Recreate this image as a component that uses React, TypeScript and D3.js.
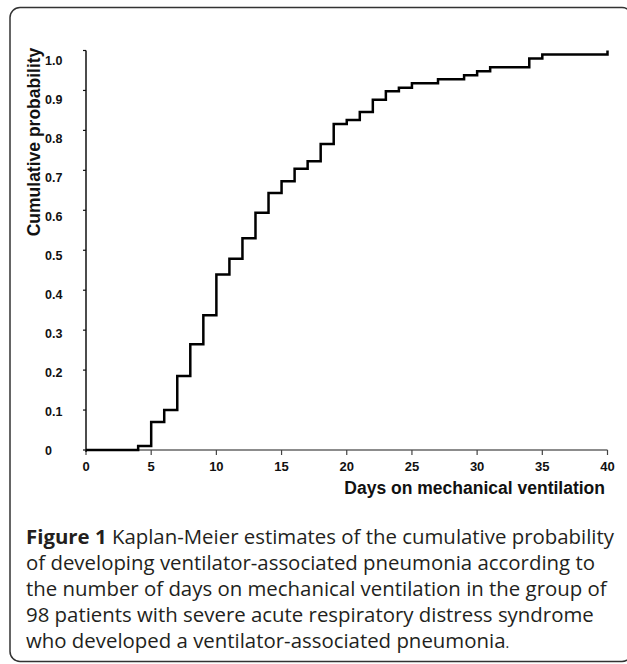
import React, { useEffect, useRef } from 'react';
import * as d3 from 'd3';

// Kaplan-Meier steps (day, cumulative probability)
const days = [0, 4, 5, 6, 7, 8, 9, 10, 11, 12, 13, 14, 15, 16, 17, 18, 19, 20, 21, 22, 23, 24, 25, 27, 29, 30, 31, 34, 35, 40];
const cumProb = [0, 0.01, 0.07, 0.1, 0.185, 0.265, 0.337, 0.439, 0.479, 0.53, 0.594, 0.643, 0.673, 0.704, 0.723, 0.766, 0.816, 0.826, 0.846, 0.877, 0.898, 0.907, 0.918, 0.928, 0.938, 0.948, 0.958, 0.98, 0.99, 1.0];

const xTicks = [0, 5, 10, 15, 20, 25, 30, 35, 40];
const yTicks = [0, 0.1, 0.2, 0.3, 0.4, 0.5, 0.6, 0.7, 0.8, 0.9, 1.0];
const yTickLabels = ['0', '0.1', '0.2', '0.3', '0.4', '0.5', '0.6', '0.7', '0.8', '0.9', '1.0'];

const xTitle = 'Days on mechanical ventilation';
const yTitle = 'Cumulative probability';
const captionLines = [
  'Kaplan-Meier estimates of the cumulative probability',
  'of developing ventilator-associated pneumonia according to',
  'the number of days on mechanical ventilation in the group of',
  '98 patients with severe acute respiratory distress syndrome',
  'who developed a ventilator-associated pneumonia',
];

const App = () => {
  const ref = useRef<SVGSVGElement | null>(null);

  useEffect(() => {
    const svg = d3.select(ref.current);
    svg.selectAll('*').remove();

    // frame
    svg.append('rect')
      .attr('x', 10).attr('y', 7.5)
      .attr('width', 622).attr('height', 654)
      .attr('rx', 10)
      .attr('fill', 'none')
      .attr('stroke', '#333')
      .attr('stroke-width', 1.5);

    const x = d3.scaleLinear().domain([0, 40]).range([86, 607.5]);
    const y = d3.scaleLinear().domain([0, 1]).range([450, 50.5]);
    // tick labels in the original sit on a slightly tighter spacing
    const yLab = d3.scaleLinear().domain([0, 1]).range([450, 60]);

    const g = svg.append('g').attr('font-family', 'Arial, "Liberation Sans", sans-serif');

    // x axis
    g.append('line')
      .attr('x1', x(0)).attr('x2', x(40))
      .attr('y1', y(0)).attr('y2', y(0))
      .attr('stroke', '#666').attr('stroke-width', 1.5);
    g.selectAll('.xt').data(xTicks).enter().append('line')
      .attr('x1', d => x(d)).attr('x2', d => x(d))
      .attr('y1', y(0)).attr('y2', y(0) + 5)
      .attr('stroke', '#444').attr('stroke-width', 1.2);
    g.selectAll('.xl').data(xTicks).enter().append('text')
      .attr('x', d => x(d)).attr('y', 471)
      .attr('text-anchor', 'middle')
      .attr('font-size', 13).attr('font-weight', 'bold').attr('fill', '#111')
      .text(d => d);

    // y axis
    g.append('line')
      .attr('x1', x(0)).attr('x2', x(0))
      .attr('y1', y(1)).attr('y2', y(0) + 2)
      .attr('stroke', '#111').attr('stroke-width', 1.5);
    g.selectAll('.yt').data(yTicks).enter().append('line')
      .attr('x1', x(0) - 3).attr('x2', x(0))
      .attr('y1', d => y(d)).attr('y2', d => y(d))
      .attr('stroke', '#111').attr('stroke-width', 1.2);
    g.selectAll('.yl').data(yTicks).enter().append('text')
      .attr('x', 45).attr('y', d => yLab(d) + 4.5)
      .attr('font-size', 12.5).attr('font-weight', 'bold').attr('fill', '#111')
      .text((d, i) => yTickLabels[i]);

    // titles
    g.append('text')
      .attr('x', 605).attr('y', 494)
      .attr('text-anchor', 'end')
      .attr('font-size', 17.5).attr('font-weight', 'bold').attr('fill', '#111')
      .text(xTitle);
    g.append('text')
      .attr('transform', `translate(40,142) rotate(-90)`)
      .attr('text-anchor', 'middle')
      .attr('font-size', 17.5).attr('font-weight', 'bold').attr('fill', '#111')
      .text(yTitle);

    // step curve
    const pts = days.map((d, i) => [d, cumProb[i]] as [number, number]);
    const line = d3.line<[number, number]>()
      .x(d => x(d[0]))
      .y(d => y(d[1]))
      .curve(d3.curveStepAfter);
    g.append('path')
      .datum(pts)
      .attr('fill', 'none')
      .attr('stroke', '#000')
      .attr('stroke-width', 2.5)
      .attr('d', line);

    // caption
    const cap = svg.append('text')
      .attr('font-family', '"Open Sans", sans-serif')
      .attr('font-size', 20.4)
      .attr('fill', '#231f20');
    captionLines.forEach((t, i) => {
      const ts = cap.append('tspan').attr('x', 26).attr('y', 544 + i * 26);
      if (i === 0) {
        ts.append('tspan').attr('font-weight', 'bold').text('Figure 1 ');
      }
      ts.append('tspan').text(t);
      if (i === captionLines.length - 1) {
        ts.append('tspan').attr('font-size', 14).text('.');
      }
    });
  }, []);

  return (
    <div style={{ position: 'absolute', left: 0, top: 0 }}>
      <svg ref={ref} width={627} height={664} style={{ display: 'block', background: '#fff' }} />
    </div>
  );
};

export default App;
